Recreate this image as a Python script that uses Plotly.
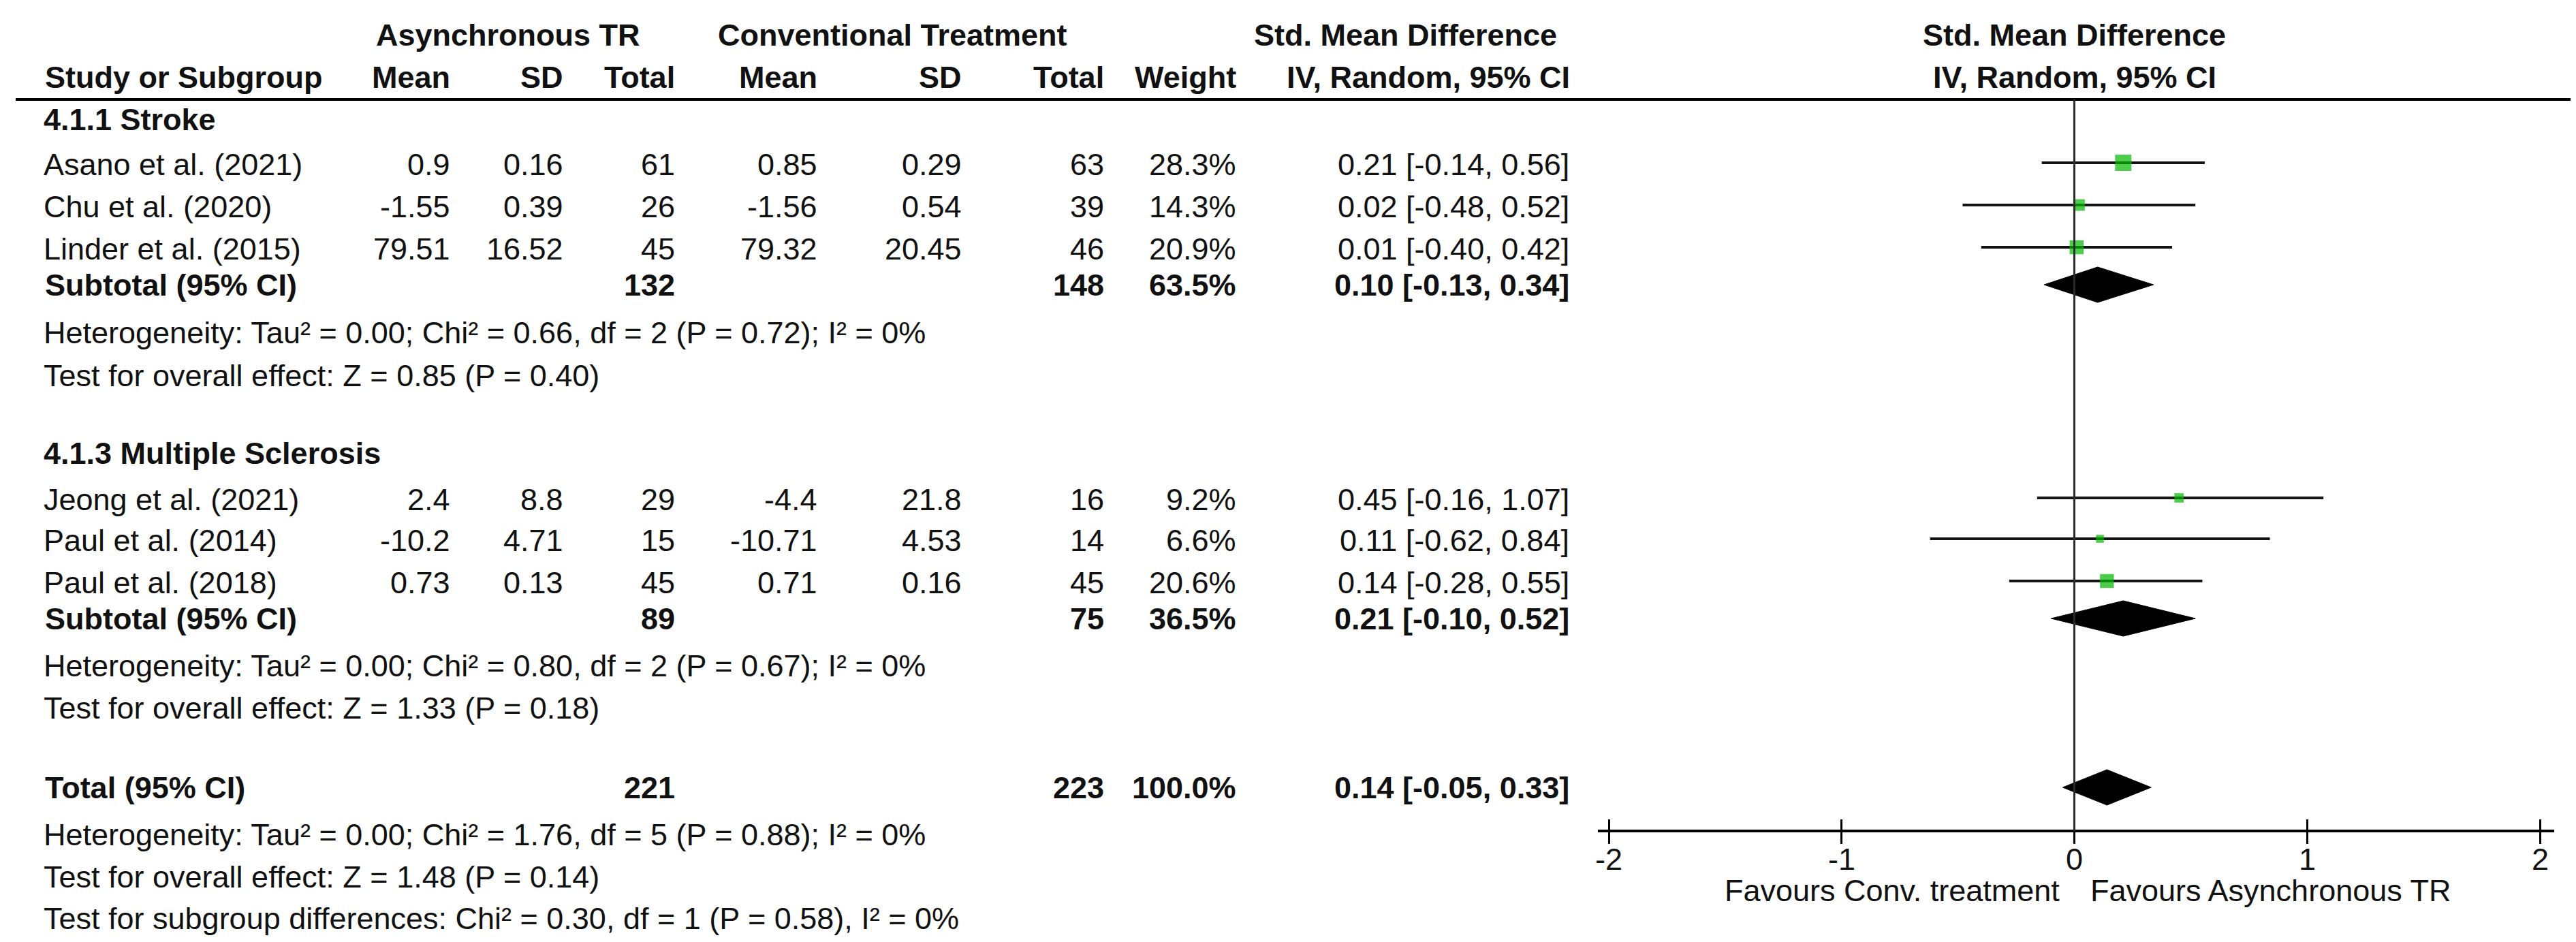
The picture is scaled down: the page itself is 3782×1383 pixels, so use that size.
import plotly.graph_objects as go

# ---------------- data ----------------
studies = ["Asano et al. (2021)", "Chu et al. (2020)", "Linder et al. (2015)",
           "Jeong et al. (2021)", "Paul et al. (2014)", "Paul et al. (2018)"]
exp_mean = [0.9, -1.55, 79.51, 2.4, -10.2, 0.73]
exp_sd = [0.16, 0.39, 16.52, 8.8, 4.71, 0.13]
exp_n = [61, 26, 45, 29, 15, 45]
ctl_mean = [0.85, -1.56, 79.32, -4.4, -10.71, 0.71]
ctl_sd = [0.29, 0.54, 20.45, 21.8, 4.53, 0.16]
ctl_n = [63, 39, 46, 16, 14, 45]
weight = [28.3, 14.3, 20.9, 9.2, 6.6, 20.6]
smd = [0.21, 0.02, 0.01, 0.45, 0.11, 0.14]
smd_lo = [-0.14, -0.48, -0.40, -0.16, -0.62, -0.28]
smd_hi = [0.56, 0.52, 0.42, 1.07, 0.84, 0.55]

groups = ["4.1.1 Stroke", "4.1.3 Multiple Sclerosis"]
sub_exp_n = [132, 89]
sub_ctl_n = [148, 75]
sub_weight = [63.5, 36.5]
sub_est = [0.10, 0.21]
sub_lo = [-0.13, -0.10]
sub_hi = [0.34, 0.52]
sub_het = ["Heterogeneity: Tau² = 0.00; Chi² = 0.66, df = 2 (P = 0.72); I² = 0%",
           "Heterogeneity: Tau² = 0.00; Chi² = 0.80, df = 2 (P = 0.67); I² = 0%"]
sub_test = ["Test for overall effect: Z = 0.85 (P = 0.40)",
            "Test for overall effect: Z = 1.33 (P = 0.18)"]

tot_exp_n = 221
tot_ctl_n = 223
tot_weight = 100.0
tot_est = 0.14
tot_lo = -0.05
tot_hi = 0.33
tot_lines = ["Heterogeneity: Tau² = 0.00; Chi² = 1.76, df = 5 (P = 0.88); I² = 0%",
             "Test for overall effect: Z = 1.48 (P = 0.14)",
             "Test for subgroup differences: Chi² = 0.30, df = 1 (P = 0.58), I² = 0%"]

axis_ticks = [-2, -1, 0, 1, 2]
axis_ticklabels = ["-2", "-1", "0", "1", "2"]
favours_left = "Favours Conv. treatment"
favours_right = "Favours Asynchronous TR"

# ---------------- layout (pixel positions) ----------------
W, H = 3782, 1383
FONT = "Liberation Sans, Arial, sans-serif"
FS = 45
COL = "#111111"
TXT_SHIFT = -5

study_rows = [238, 300, 362, 730, 790, 852]
group_rows = [172, 662]
sub_rows = [415, 905]
het_rows = [485, 974]
test_rows = [548, 1036]
tot_row = 1153
tot_line_rows = [1222, 1284, 1345]
mark_shift = -7
diamond_shift = -5
diamond_half = 26

x_name = 54
x_emean, x_esd, x_en = 655, 821, 985
x_cmean, x_csd, x_cn = 1194, 1406, 1615
x_w, x_ci = 1809, 2298
x_zero_px, unit_px = 3037.5, 341.75
ax_left, ax_right = 2338, 3742
axis_y = 1212
ticklabel_y = 1258
favours_y = 1304
header_y = 138


def px(x):
    return x / W


def fmt_ci(e, l, h):
    return f"{e:.2f} [{l:.2f}, {h:.2f}]"


ann = []


def add(text, x, y, anchor="left", bold=False, size=FS, xref="paper"):
    ann.append(dict(text=f"<b>{text}</b>" if bold else text,
                    x=px(x) if xref == "paper" else x, y=y + TXT_SHIFT,
                    xref=xref, yref="y", xanchor=anchor, yanchor="middle",
                    showarrow=False, font=dict(family=FONT, size=size, color=COL)))


# headers
add("Asynchronous TR", 738, 48, "center", True)
add("Conventional Treatment", 1302, 48, "center", True)
add("Std. Mean Difference", 2055, 48, "center", True)
add("Std. Mean Difference", x_zero_px, 48, "center", True)
add("Study or Subgroup", 56, 110, "left", True)
for t, x in [("Mean", x_emean), ("SD", x_esd), ("Total", x_en), ("Mean", x_cmean),
             ("SD", x_csd), ("Total", x_cn), ("Weight", x_w), ("IV, Random, 95% CI", x_ci + 1)]:
    add(t, x, 110, "right", True)
add("IV, Random, 95% CI", x_zero_px, 110, "center", True)

# studies
for i, s in enumerate(studies):
    y = study_rows[i]
    add(s, x_name, y)
    add(str(exp_mean[i]), x_emean, y, "right")
    add(str(exp_sd[i]), x_esd, y, "right")
    add(str(exp_n[i]), x_en, y, "right")
    add(str(ctl_mean[i]), x_cmean, y, "right")
    add(str(ctl_sd[i]), x_csd, y, "right")
    add(str(ctl_n[i]), x_cn, y, "right")
    add(f"{weight[i]:.1f}%", x_w, y, "right")
    add(fmt_ci(smd[i], smd_lo[i], smd_hi[i]), x_ci, y, "right")

# subgroups
for g, name in enumerate(groups):
    add(name, x_name, group_rows[g], "left", True)
    y = sub_rows[g]
    add("Subtotal (95% CI)", 56, y, "left", True)
    add(str(sub_exp_n[g]), x_en, y, "right", True)
    add(str(sub_ctl_n[g]), x_cn, y, "right", True)
    add(f"{sub_weight[g]:.1f}%", x_w, y, "right", True)
    add(fmt_ci(sub_est[g], sub_lo[g], sub_hi[g]), x_ci, y, "right", True)
    add(sub_het[g], x_name, het_rows[g])
    add(sub_test[g], x_name, test_rows[g])

# total
add("Total (95% CI)", 56, tot_row, "left", True)
add(str(tot_exp_n), x_en, tot_row, "right", True)
add(str(tot_ctl_n), x_cn, tot_row, "right", True)
add(f"{tot_weight:.1f}%", x_w, tot_row, "right", True)
add(fmt_ci(tot_est, tot_lo, tot_hi), x_ci, tot_row, "right", True)
for t, y in zip(tot_lines, tot_line_rows):
    add(t, x_name, y)

# axis tick labels (placed through the x axis scale)
for v, lab in zip(axis_ticks, axis_ticklabels):
    add(lab, v, ticklabel_y, "center", xref="x")

# favours labels
add(favours_left, 3018, favours_y, "right")
add(favours_right, 3059, favours_y, "left")

fig = go.Figure()

# CI lines for studies
for i in range(len(studies)):
    y = study_rows[i] + mark_shift
    fig.add_trace(go.Scatter(x=[smd_lo[i], smd_hi[i]], y=[y, y], mode="lines",
                             line=dict(color="#141414", width=4), hoverinfo="skip",
                             showlegend=False))
# squares
fig.add_trace(go.Scatter(x=smd, y=[r + mark_shift for r in study_rows], mode="markers",
                         marker=dict(symbol="square", color="#00B800",
                                     size=[4.5 * w ** 0.5 for w in weight],
                                     line=dict(width=0)),
                         hoverinfo="skip", showlegend=False))


# diamonds
def diamond(e, l, h, yc):
    yc = yc + diamond_shift
    fig.add_trace(go.Scatter(x=[l, e, h, e, l], y=[yc, yc - diamond_half, yc, yc + diamond_half, yc],
                             mode="lines", fill="toself", fillcolor="black",
                             line=dict(color="black", width=1), hoverinfo="skip",
                             showlegend=False))


for g in range(len(groups)):
    diamond(sub_est[g], sub_lo[g], sub_hi[g], sub_rows[g])
diamond(tot_est, tot_lo, tot_hi, tot_row)

# dummy trace for the second (inside ticks) axis
fig.add_trace(go.Scatter(x=[0], y=[-100], xaxis="x2", yaxis="y", mode="markers",
                         marker=dict(opacity=0), hoverinfo="skip", showlegend=False))

rng = [(ax_left - x_zero_px) / unit_px, (ax_right - x_zero_px) / unit_px]
pos = 1 - axis_y / H
dom = [px(ax_left), px(ax_right)]

shapes = [
    dict(type="line", xref="paper", yref="y", x0=px(15), x1=1, y0=header_y, y1=header_y,
         line=dict(color="black", width=4)),
    dict(type="line", xref="x", yref="y", x0=0, x1=0, y0=header_y, y1=axis_y,
         line=dict(color="#2a2a2a", width=3)),
]

fig.update_layout(
    width=W, height=H, margin=dict(l=0, r=0, t=0, b=0),
    paper_bgcolor="white", plot_bgcolor="white",
    showlegend=False, annotations=ann, shapes=shapes,
    xaxis=dict(range=rng, domain=dom, anchor="free", position=pos,
               showline=True, linewidth=4, linecolor="black",
               ticks="outside", ticklen=17, tickwidth=3, tickcolor="black",
               tickvals=axis_ticks, showticklabels=False,
               showgrid=False, zeroline=False, fixedrange=True),
    xaxis2=dict(range=rng, domain=dom, anchor="free", position=pos, overlaying="x",
                showline=False, ticks="inside", ticklen=17, tickwidth=3, tickcolor="black",
                tickvals=axis_ticks, showticklabels=False,
                showgrid=False, zeroline=False, fixedrange=True),
    yaxis=dict(range=[H, 0], domain=[0, 1], visible=False, fixedrange=True),
)

fig.write_html("out.html")
